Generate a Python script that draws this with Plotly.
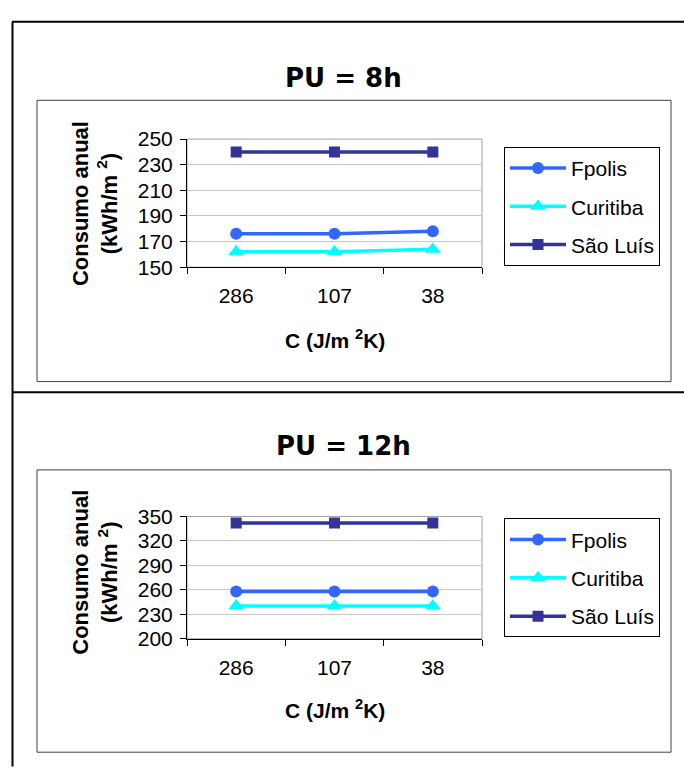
import plotly.graph_objects as go

# Thermal capacity of the envelope (x categories)
categorias = ["286", "107", "38"]
cidades = ["Fpolis", "Curitiba", "São Luís"]

# Annual consumption (kWh/m2) for an 8 h occupation pattern
fpolis_8h = [176, 176, 178]
curitiba_8h = [162, 162, 164]
saoluis_8h = [240, 240, 240]

# Annual consumption (kWh/m2) for a 12 h occupation pattern
fpolis_12h = [258, 258, 258]
curitiba_12h = [240, 240, 240]
saoluis_12h = [342, 342, 342]

ticks_8h = [150, 170, 190, 210, 230, 250]
ticks_12h = [200, 230, 260, 290, 320, 350]

W, H = 684, 770
FONT = "Liberation Sans, Arial, sans-serif"
TITLE_FONT = "DejaVu Sans, sans-serif"

cores = {"Fpolis": "#3366FF", "Curitiba": "#00FFFF", "São Luís": "#333399"}
simbolos = {"Fpolis": "circle", "Curitiba": "triangle-up", "São Luís": "square"}
tamanhos = {"Fpolis": 12, "Curitiba": 14, "São Luís": 11}


def px(x):
    return x / W


def py(y):
    return 1 - y / H


fig = go.Figure()

series = [
    ("x", "y", "legend", [fpolis_8h, curitiba_8h, saoluis_8h], "8h"),
    ("x2", "y2", "legend2", [fpolis_12h, curitiba_12h, saoluis_12h], "12h"),
]
for xa, ya, leg, valores, tag in series:
    for nome, vals in zip(cidades, valores):
        fig.add_trace(go.Scatter(
            x=categorias, y=vals, name=nome, xaxis=xa, yaxis=ya,
            mode="lines+markers", legend=leg, legendgroup=tag + nome,
            line=dict(color=cores[nome], width=3.5),
            marker=dict(symbol=simbolos[nome], size=tamanhos[nome],
                        color=cores[nome]),
        ))

eixo_x = dict(
    type="category", range=[-0.5, 2.5], tickson="boundaries",
    ticks="outside", ticklen=6, tickcolor="black", tickwidth=1,
    showline=True, linecolor="black", linewidth=1, showgrid=False,
    tickfont=dict(family=FONT, size=21, color="black"),
    ticklabelstandoff=10, zeroline=False, fixedrange=True,
)
eixo_y = dict(
    ticks="outside", ticklen=6, tickcolor="black", tickwidth=1,
    showline=True, linecolor="black", linewidth=1,
    showgrid=True, gridcolor="#c8c8c8", gridwidth=1, zeroline=False,
    tickfont=dict(family=FONT, size=21, color="black"),
    ticklabelstandoff=3, fixedrange=True,
)

legenda = dict(xanchor="left", yanchor="top",
               bordercolor="black", borderwidth=1, bgcolor="white",
               font=dict(family=FONT, size=21, color="black"),
               itemwidth=56, tracegroupgap=8)

fig.update_layout(
    width=W, height=H, margin=dict(l=0, r=0, t=0, b=0),
    paper_bgcolor="white", plot_bgcolor="white",
    xaxis=dict(eixo_x, domain=[px(187), px(482)], anchor="y"),
    yaxis=dict(eixo_y, domain=[py(263), py(131)], anchor="x",
               range=[150, 250], tickvals=ticks_8h),
    xaxis2=dict(eixo_x, domain=[px(187), px(482)], anchor="y2"),
    yaxis2=dict(eixo_y, domain=[py(646), py(520)], anchor="x2",
                range=[200, 350], tickvals=ticks_12h),
    legend=dict(legenda, x=px(504), y=py(139)),
    legend2=dict(legenda, x=px(504), y=py(522)),
    showlegend=True,
)

shapes = []
# outer frame and divider between the two panels
shapes.append(dict(type="line", xref="paper", yref="paper",
                   x0=px(12), x1=1.01, y0=py(10), y1=py(10),
                   line=dict(color="black", width=2)))
shapes.append(dict(type="line", xref="paper", yref="paper",
                   x0=px(12.5), x1=px(12.5), y0=py(10), y1=-0.01,
                   line=dict(color="black", width=2)))
shapes.append(dict(type="line", xref="paper", yref="paper",
                   x0=px(12), x1=1.01, y0=py(392), y1=py(392),
                   line=dict(color="black", width=2)))
# chart-area boxes
for top, bottom in [(91, 381), (472, 763)]:
    shapes.append(dict(type="rect", xref="paper", yref="paper",
                       x0=px(37), x1=px(671), y0=py(bottom), y1=py(top),
                       line=dict(color="#404040", width=1)))
# plot-area borders
for xa, ya in [("x", "y"), ("x2", "y2")]:
    shapes.append(dict(type="rect", xref=xa + " domain", yref=ya + " domain",
                       x0=0, x1=1, y0=0, y1=1, layer="below",
                       line=dict(color="#a0a0a0", width=1)))
fig.update_layout(shapes=shapes)

anotacoes = []
for texto, ytit, yy, yx in [("PU = 8h", 68, 198, 337), ("PU = 12h", 447, 578, 718)]:
    anotacoes.append(dict(text="<b>" + texto + "</b>", xref="paper", yref="paper",
                          x=px(343), y=py(ytit), showarrow=False,
                          xanchor="center", yanchor="middle",
                          font=dict(family=TITLE_FONT, size=26, color="black")))
    anotacoes.append(dict(text="<b>Consumo anual<br>(kWh/m <sup>2</sup>)</b>",
                          xref="paper", yref="paper", x=px(95), y=py(yy),
                          showarrow=False, textangle=-90,
                          xanchor="center", yanchor="middle",
                          font=dict(family=FONT, size=22, color="black")))
    anotacoes.append(dict(text="<b>C (J/m <sup>2</sup>K)</b>", xref="paper", yref="paper",
                          x=px(335), y=py(yx), showarrow=False,
                          xanchor="center", yanchor="middle",
                          font=dict(family=FONT, size=21, color="black")))
fig.update_layout(annotations=anotacoes)

fig.write_html("out.html")
